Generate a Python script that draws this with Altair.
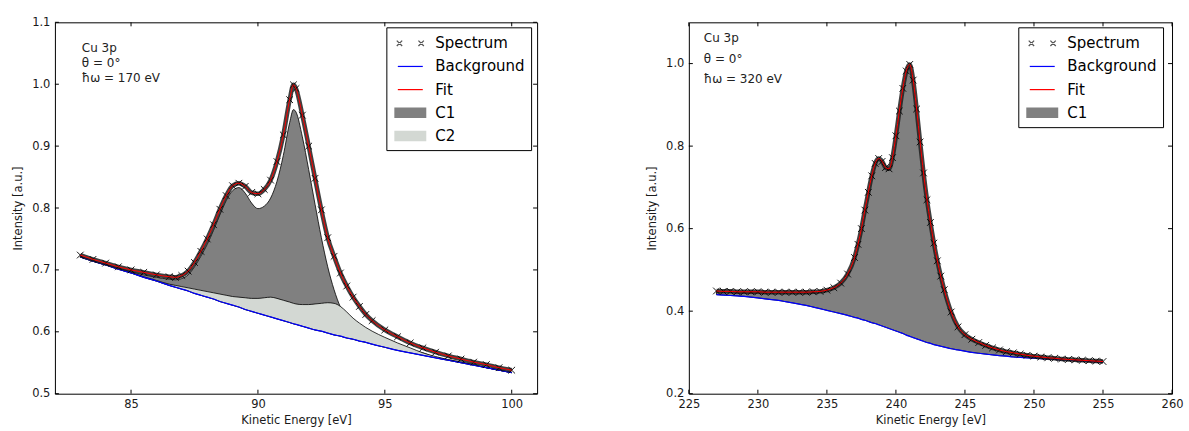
import altair as alt
import pandas as pd

# ---------------- data ----------------
X_L = [83.0, 83.5, 84.0, 84.5, 85.0, 85.5, 86.0, 86.5, 86.75, 87.0, 87.25, 87.5, 87.75,
       88.0, 88.25, 88.5, 88.75, 89.0, 89.25, 89.5, 89.75, 90.0, 90.25, 90.5, 90.75,
       91.0, 91.25, 91.4, 91.5, 91.75, 92.0, 92.25, 92.5, 92.75, 93.0, 93.25, 93.5,
       93.75, 94.0, 94.25, 94.5, 95.0, 95.5, 96.0, 96.5, 97.0, 97.5, 98.0, 98.5, 99.0,
       99.5, 100.0]
SPEC_L = [0.724, 0.717, 0.711, 0.705, 0.700, 0.696, 0.692, 0.689, 0.688, 0.691, 0.698,
          0.712, 0.730, 0.750, 0.773, 0.798, 0.820, 0.836, 0.840, 0.835, 0.825, 0.823,
          0.830, 0.845, 0.875, 0.918, 0.975, 0.999, 0.993, 0.950, 0.900, 0.848, 0.797,
          0.752, 0.722, 0.695, 0.674, 0.656, 0.641, 0.628, 0.618, 0.603, 0.592, 0.582,
          0.574, 0.567, 0.561, 0.556, 0.551, 0.547, 0.542, 0.538]
BG_L = [0.721, 0.714, 0.708, 0.701, 0.695, 0.688, 0.682, 0.675, 0.672, 0.669, 0.666,
        0.662, 0.659, 0.656, 0.653, 0.649, 0.646, 0.643, 0.640, 0.636, 0.633, 0.630,
        0.627, 0.624, 0.621, 0.618, 0.615, 0.613, 0.612, 0.609, 0.606, 0.603, 0.601,
        0.598, 0.595, 0.593, 0.590, 0.588, 0.585, 0.583, 0.580, 0.575, 0.570, 0.566,
        0.562, 0.558, 0.554, 0.550, 0.546, 0.542, 0.538, 0.534]
C1_L = [0.722, 0.715, 0.709, 0.703, 0.697, 0.692, 0.688, 0.685, 0.684, 0.686, 0.692,
        0.705, 0.722, 0.741, 0.764, 0.789, 0.812, 0.828, 0.833, 0.824, 0.808, 0.799,
        0.803, 0.816, 0.843, 0.885, 0.938, 0.959, 0.955, 0.915, 0.862, 0.806, 0.752,
        0.705, 0.668, 0.640, 0.622, 0.610, 0.602, 0.596, 0.592, 0.584, 0.577, 0.571,
        0.566, 0.559, 0.555, 0.551, 0.547, 0.542, 0.538, 0.534]
C2_L = [0.721, 0.714, 0.708, 0.702, 0.696, 0.689, 0.683, 0.677, 0.675, 0.673, 0.671,
        0.669, 0.667, 0.665, 0.663, 0.661, 0.659, 0.657, 0.656, 0.655, 0.654, 0.654,
        0.655, 0.656, 0.654, 0.651, 0.648, 0.646, 0.645, 0.644, 0.644, 0.645, 0.646,
        0.647, 0.646, 0.641, 0.632, 0.622, 0.614, 0.607, 0.601, 0.591, 0.582, 0.574,
        0.566, 0.560, 0.555, 0.551, 0.547, 0.542, 0.538, 0.534]

X_R = [227.0, 227.5, 228.0, 228.5, 229.0, 229.5, 230.0, 230.5, 231.0, 231.5, 232.0,
       232.5, 233.0, 233.5, 234.0, 234.5, 235.0, 235.5, 236.0, 236.5,
       237.0, 237.25, 237.5, 237.75, 238.0, 238.25, 238.5, 238.75, 239.0, 239.25, 239.5,
       239.75, 240.0, 240.25, 240.5, 240.75, 241.0, 241.25, 241.5, 241.75, 242.0, 242.25,
       242.5, 242.75, 243.0, 243.25, 243.5,
       244.0, 244.5, 245.0, 245.5, 246.0, 246.5, 247.0, 247.5, 248.0, 248.5, 249.0,
       249.5, 250.0, 250.5, 251.0, 251.5, 252.0, 252.5, 253.0, 253.5, 254.0, 254.5, 255.0]
SPEC_R = [0.449, 0.448, 0.448, 0.447, 0.447, 0.447, 0.447, 0.446, 0.446, 0.446, 0.446,
          0.446, 0.446, 0.446, 0.447, 0.448, 0.451, 0.457, 0.468, 0.490,
          0.530, 0.562, 0.600, 0.645, 0.688, 0.728, 0.758, 0.770, 0.763, 0.748, 0.745,
          0.772, 0.825, 0.885, 0.940, 0.982, 0.998, 0.960, 0.890, 0.810, 0.735, 0.670,
          0.615, 0.565, 0.522, 0.485, 0.452,
          0.398, 0.362, 0.343, 0.332, 0.324, 0.317, 0.311, 0.306, 0.302, 0.299, 0.296,
          0.293, 0.291, 0.289, 0.287, 0.286, 0.284, 0.283, 0.282, 0.281, 0.280, 0.279, 0.278]
BG_R = [0.440, 0.439, 0.438, 0.437, 0.436, 0.434, 0.432, 0.430, 0.428, 0.426, 0.423,
        0.420, 0.417, 0.414, 0.410, 0.406, 0.402, 0.398, 0.394, 0.390,
        0.385, 0.383, 0.380, 0.378, 0.375, 0.372, 0.370, 0.367, 0.364, 0.361, 0.358,
        0.355, 0.352, 0.349, 0.346, 0.342, 0.339, 0.336, 0.333, 0.330, 0.327, 0.324,
        0.322, 0.319, 0.317, 0.315, 0.313,
        0.309, 0.306, 0.303, 0.300, 0.298, 0.296, 0.294, 0.292, 0.291, 0.289, 0.288,
        0.287, 0.286, 0.285, 0.284, 0.283, 0.282, 0.281, 0.280, 0.279, 0.278, 0.277, 0.276]

SERIES_L = ["Spectrum", "Background", "Fit", "C1", "C2"]
SERIES_R = ["Spectrum", "Background", "Fit", "C1"]
XTICKS_L = [85, 90, 95, 100]
YTICKS_L = [0.5, 0.6, 0.7, 0.8, 0.9, 1.0, 1.1]
XTICKS_R = [225, 230, 235, 240, 245, 250, 255, 260]
YTICKS_R = [0.2, 0.4, 0.6, 0.8, 1.0]
ANNOT_L = ["Cu 3p", "θ = 0°", "ħω = 170 eV"]
ANNOT_R = ["Cu 3p", "θ = 0°", "ħω = 320 eV"]

# ---------------- styling ----------------
FONT = "DejaVu Sans"
H = 372
XPATH = "M-1,-1L1,1M-1,1L1,-1"


def xmark(cx, a=0.27, p=0.045):
    """filled polygon path for a small diagonal cross centred at cx"""
    return (f"M{cx-a-p},{-a+p}L{cx-a+p},{-a-p}L{cx+a+p},{a-p}L{cx+a-p},{a+p}Z"
            f"M{cx-a-p},{a-p}L{cx-a+p},{a+p}L{cx+a+p},{-a+p}L{cx+a-p},{-a-p}Z")


RECT = "M-1.6,-0.53H1.6V0.53H-1.6Z"
SYM_SHAPE = {
    "Spectrum": xmark(-1.085) + xmark(1.085),
    "Background": "M-1.25,-0.06H1.25V0.06H-1.25Z",
    "Fit": "M-1.25,-0.06H1.25V0.06H-1.25Z",
    "C1": RECT,
    "C2": RECT,
}
SYM_FILL = {"Spectrum": "#555555", "Background": "#0000ff", "Fit": "#ff0000",
            "C1": "#808080", "C2": "#d3d8d3"}
SYM_EDGE = {"Spectrum": 0, "Background": 0, "Fit": 0, "C1": 1, "C2": 1}


def legend_common(lx):
    return dict(title=None, orient="none", legendX=lx, legendY=5, padding=6,
                labelFont=FONT, labelFontSize=15, symbolSize=400, symbolOffset=8,
                labelOffset=15, rowPadding=5.2, labelLimit=300)


def panel(xs, spec, bg, c1, c2, series, xdom, ydom, xticks, yticks,
          annot, ann_x, ann_y, ann_lh, width, leg_x):
    cols = {"x": xs, "spec": spec, "bg": bg, "c1": c1}
    if c2 is not None:
        cols["c2"] = c2
    df = pd.DataFrame(cols)
    xsc = alt.Scale(domain=xdom, nice=False, zero=False)
    ysc = alt.Scale(domain=ydom, nice=False, zero=False)
    xax = alt.Axis(values=xticks, format="d", title="Kinetic Energy [eV]")
    yax = alt.Axis(values=yticks, format=".1f", title="Intensity [a.u.]")

    def Xf(f):
        return alt.X(f + ":Q", scale=xsc, axis=xax)

    def Yf(f):
        return alt.Y(f + ":Q", scale=ysc, axis=yax)

    base = alt.Chart(df)
    layers = [
        base.mark_area(fill="#808080", stroke="black", strokeWidth=0.8,
                       opacity=1, interpolate="monotone")
            .encode(x=Xf("x"), y=Yf("bg"), y2="c1:Q"),
    ]
    if c2 is not None:
        layers.append(
            base.mark_area(fill="#d3d8d3", stroke="black", strokeWidth=0.8,
                           opacity=1, interpolate="monotone")
                .encode(x=Xf("x"), y=Yf("bg"), y2="c2:Q"))
    layers += [
        base.mark_line(color="#0000ff", strokeWidth=1.2, interpolate="monotone")
            .encode(x=Xf("x"), y=Yf("bg")),
        base.mark_line(color="#1e1e1e", strokeWidth=4.5, opacity=0.85,
                       interpolate="monotone")
            .encode(x=Xf("x"), y=Yf("spec")),
        base.mark_point(shape=XPATH, size=45, filled=False, color="black",
                        strokeWidth=0.9, opacity=1)
            .encode(x=Xf("x"), y=Yf("spec")),
        base.mark_line(color="#ff0000", strokeWidth=1, interpolate="monotone")
            .encode(x=Xf("x"), y=Yf("spec")),
    ]
    # inward ticks on all four sides
    xt = alt.Chart(pd.DataFrame({"v": xticks}))
    yt = alt.Chart(pd.DataFrame({"v": yticks}))
    layers += [
        xt.mark_rule(color="black", strokeWidth=1).encode(
            x=Xf("v"), y=alt.value(0), y2=alt.value(4)),
        xt.mark_rule(color="black", strokeWidth=1).encode(
            x=Xf("v"), y=alt.value(H), y2=alt.value(H - 4)),
        yt.mark_rule(color="black", strokeWidth=1).encode(
            y=Yf("v"), x=alt.value(0), x2=alt.value(4)),
        yt.mark_rule(color="black", strokeWidth=1).encode(
            y=Yf("v"), x=alt.value(width), x2=alt.value(width - 4)),
    ]
    # annotation
    layers.append(
        alt.Chart(pd.DataFrame({"a": [1]})).mark_text(
            text=annot, align="left", baseline="alphabetic", font=FONT,
            fontSize=12, lineHeight=ann_lh, color="#222222")
        .encode(x=alt.value(ann_x), y=alt.value(ann_y)))
    # legend: filled symbols + labels (symbols kept outside the view)
    edge_keys = [s + " " for s in series]
    leg_df = pd.DataFrame({"series": series, "edge": edge_keys})
    leg1 = alt.Legend(strokeColor="black", symbolStrokeWidth=0, labelColor="black",
                      **legend_common(leg_x))
    layers.append(
        alt.Chart(leg_df).mark_point(clip=True, opacity=1, filled=True).encode(
            x=alt.value(-300), y=alt.value(-300),
            shape=alt.Shape("series:N", legend=leg1, scale=alt.Scale(
                domain=series, range=[SYM_SHAPE[s] for s in series])),
            fill=alt.Fill("series:N", legend=leg1, scale=alt.Scale(
                domain=series, range=[SYM_FILL[s] for s in series])),
        ))
    # legend overlay: black outlines for the patch entries (no labels)
    leg2 = alt.Legend(symbolType=RECT, symbolStrokeWidth=1, labelExpr="''",
                      **legend_common(leg_x))
    layers.append(
        alt.Chart(leg_df).mark_point(clip=True, filled=False, color="black").encode(
            x=alt.value(-300), y=alt.value(-300),
            opacity=alt.Opacity("edge:N", legend=leg2, scale=alt.Scale(
                domain=edge_keys, range=[SYM_EDGE[s] for s in series])),
        ))
    return alt.layer(*layers).properties(width=width, height=H)


left = panel(X_L, SPEC_L, BG_L, C1_L, C2_L, SERIES_L, [82, 101], [0.5, 1.1],
             XTICKS_L, YTICKS_L, ANNOT_L, 27, 30, 15, 483, 332)
right = panel(X_R, SPEC_R, BG_R, SPEC_R, None, SERIES_R, [225, 260], [0.2, 1.1],
              XTICKS_R, YTICKS_R, ANNOT_R, 15, 20, 20.5, 484, 330)

chart = (
    alt.hconcat(left, right, spacing=108)
    .resolve_scale(x="independent", y="independent", shape="independent",
                   fill="independent", opacity="independent")
    .resolve_legend(shape="independent", fill="independent", opacity="independent")
    .properties(padding={"left": 12, "top": 15, "right": 5, "bottom": 3},
                background="white")
    .configure_view(stroke="black", strokeWidth=1)
    .configure_axis(labelFont=FONT, labelFontSize=11.5, labelColor="#1a1a1a",
                    titleFont=FONT, titleFontSize=11.5, titleFontWeight="normal",
                    titleColor="#1a1a1a", domain=False, ticks=False, grid=False,
                    labelPadding=5, labelFlush=False, labelOverlap=False)
    .configure_axisX(titlePadding=4)
    .configure_axisY(titlePadding=8)
)

chart.save("out.html", embed_options={"renderer": "svg", "actions": False})
